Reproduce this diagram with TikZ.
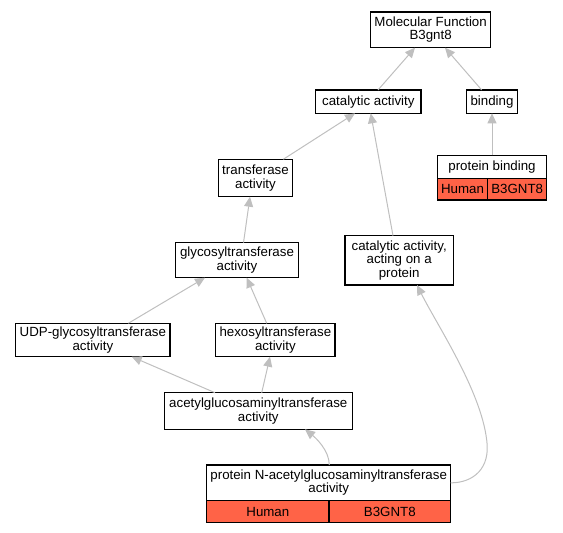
\documentclass[tikz,border=0pt]{standalone}
\usepackage{fontspec}
\setmainfont{Liberation Sans}
\usetikzlibrary{arrows.meta}
\usetikzlibrary{positioning}
\usetikzlibrary{calc}
\definecolor{edgegray}{rgb}{0.75,0.75,0.75}
\definecolor{human}{rgb}{1,0.39,0.28}

\begin{document}
\begin{tikzpicture}[
            x = 1pt, y = -1pt, % pixel grid, y down
            term/.style = {draw, line width = 1.1pt, fill = white, align = center,
                inner sep = 0pt, outer sep = 0pt, font = \fontsize{13.3}{13.3}\selectfont},
            cell/.style = {term, fill = human, anchor = north west},
            isa/.style = {draw = edgegray, line width = 1pt,
                -{Triangle[length = 10pt, width = 9pt]}}
        ]

        \useasboundingbox (0,0) rectangle (563,533);

        % top level
        \node[term, minimum width = 119.8pt, minimum height = 35.7pt] (MF) at (430.6,29.85) {Molecular Function\\B3gnt8};
        \node[term, minimum width = 105.3pt, minimum height = 23.3pt] (CA) at (368.35,101.65) {catalytic activity};
        \node[term, minimum width = 50.6pt, minimum height = 23.3pt] (BI) at (492,101.65) {binding};

        % protein binding with annotation
        \node[term, minimum width = 109.4pt, minimum height = 23pt] (PB) at (492,166.8) {protein binding};
        \node[cell, minimum width = 50.4pt, minimum height = 21.7pt] (PBh) at (PB.south west) {Human};
        \node[cell, minimum width = 59pt, minimum height = 21.7pt] (PBg) at (PBh.north east) {B3GNT8};

        % transferase branch
        \node[term, minimum width = 74.4pt, minimum height = 37.4pt] (TR) at (255.5,178) {transferase\\activity};
        \node[term, minimum width = 108.3pt, minimum height = 49.3pt] (CP) at (399.15,260.35) {catalytic activity,\\acting on a\\protein};
        \node[term, minimum width = 122.6pt, minimum height = 35pt] (GT) at (237,260.2) {glycosyltransferase\\activity};
        \node[term, minimum width = 154.3pt, minimum height = 33.4pt] (UDP) at (92.85,340) {UDP-glycosyltransferase\\activity};
        \node[term, minimum width = 119.3pt, minimum height = 33.4pt] (HX) at (275.35,340) {hexosyltransferase\\activity};
        \node[term, minimum width = 188pt, minimum height = 36.6pt] (AG) at (258.3,411) {acetylglucosaminyltransferase\\activity};

        % annotated leaf
        \node[term, minimum width = 244pt, minimum height = 35.7pt] (PN) at (328.7,482.85) {protein N-acetylglucosaminyltransferase\\activity};
        \node[cell, minimum width = 122.3pt, minimum height = 22pt] (PNh) at (PN.south west) {Human};
        \node[cell, minimum width = 121.7pt, minimum height = 22pt] (PNg) at (PNh.north east) {B3GNT8};

        % is_a links
        \draw[isa] ($(CA.north)+(9.65,0)$) -- ($(MF.south)+(-15.6,0)$);
        \draw[isa] ($(BI.north)+(-10.3,0)$) -- ($(MF.south)+(14.4,0)$);
        \draw[isa] (PB.north) -- (BI.south);
        \draw[isa] ($(TR.north)+(27.8,0)$) -- ($(CA.south)+(-13.35,0)$);
        \draw[isa] ($(CP.north)+(-6.15,0)$) -- ($(CA.south)+(2.35,0)$);
        \draw[isa] ($(GT.north)+(6.5,0)$) -- ($(TR.south)+(-5.5,0)$);
        \draw[isa] ($(UDP.north)+(35.45,0)$) -- ($(GT.south)+(-32,0)$);
        \draw[isa] ($(HX.north)+(-8.65,0)$) -- ($(GT.south)+(9.7,0)$);
        \draw[isa] ($(AG.north)+(-43.3,0)$) -- ($(UDP.south)+(38.85,0)$);
        \draw[isa] ($(AG.north)+(3.4,0)$) -- ($(HX.south)+(-5.35,0)$);
        \draw[isa] ($(PN.north)+(0.6,0)$) .. controls +(0,-15) and +(10,8) .. ($(AG.south)+(46.7,0)$);
        \draw[isa] (PN.east) .. controls +(23,0) and +(4,28) .. (486.7,440)
            .. controls +(-6,-50) and +(20,40) .. ($(CP.south)+(17.85,0)$);

\end{tikzpicture}
\end{document}
